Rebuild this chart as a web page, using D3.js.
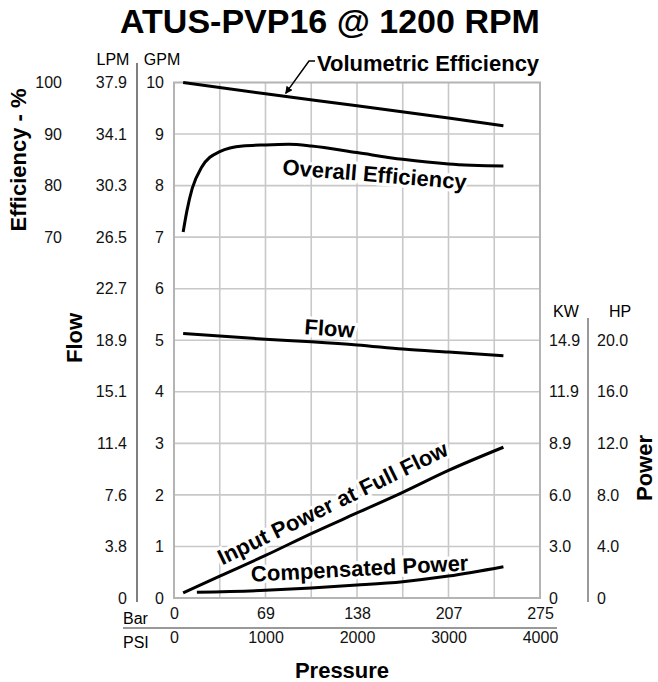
<!DOCTYPE html>
<html>
<head>
<meta charset="utf-8">
<script src="https://cdn.jsdelivr.net/npm/d3@7"></script>
<style>
  body { margin: 0; background: #fff; }
  svg { font-family: 'Liberation Sans', Arial, sans-serif; }
  .tick text { font-size: 16px; fill: #111; }
  .lbl { font-weight: bold; font-size: 22px; fill: #000; }
</style>
</head>
<body>
<script>
// pressure ticks
let psiTicks = [0, 1000, 2000, 3000, 4000],
  barLabels = ['0', '69', '138', '207', '275'];

// flow axis ticks (GPM) and LPM labels
let gpmTicks = [0, 1, 2, 3, 4, 5, 6, 7, 8, 9, 10],
  lpmLabels = ['0', '3.8', '7.6', '11.4', '15.1', '18.9', '22.7', '26.5', '30.3', '34.1', '37.9'],
  effTicks = [70, 80, 90, 100];

// power ticks (HP) and KW labels
let hpTicks = [0, 4, 8, 12, 16, 20],
  kwLabels = ['0', '3.0', '6.0', '8.9', '11.9', '14.9'],
  hpLabels = ['0', '4.0', '8.0', '12.0', '16.0', '20.0'];

// curves
let volPsi = [100, 1000, 2000, 3000, 3600],
  volEff = [100, 97.8, 95.5, 93.1, 91.6];

let ovPsi = [100, 140, 200, 300, 500, 750, 1000, 1250, 1500, 2000, 2500, 3000, 3600],
  ovEff = [71, 75, 79.5, 83.5, 86.6, 87.7, 87.9, 88.0, 87.7, 86.4, 85.1, 84.2, 83.8];

let flowPsi = [100, 1000, 1500, 2000, 2500, 3000, 3600],
  flowGpm = [5.13, 5.02, 4.97, 4.91, 4.83, 4.77, 4.70];

let inPsi = [100, 500, 1000, 1500, 2000, 2500, 3000, 3600],
  inHp = [0.4, 1.7, 3.3, 5.0, 6.6, 8.2, 9.9, 11.7];

let compPsi = [250, 1000, 1500, 2000, 2500, 3000, 3600],
  compHp = [0.45, 0.6, 0.78, 1.0, 1.27, 1.7, 2.43];

let w = 658,
  h = 682,
  pLeft = 174, pRight = 540, pTop = 82.5, pBottom = 598;

let x = d3.scaleLinear().domain([0, 4000]).range([pLeft, pRight]);
let y = d3.scaleLinear().domain([0, 10]).range([pBottom, pTop]);
let yEff = d3.scaleLinear().domain([0, 100]).range([pBottom, pTop]);
let yHp = d3.scaleLinear().domain([0, 40]).range([pBottom, pTop]);

let svg = d3.select('body')
  .append('svg')
  .attr('width', w)
  .attr('height', h);

// title
svg.append('text')
  .attr('x', 330).attr('y', 33)
  .attr('text-anchor', 'middle')
  .attr('font-weight', 'bold')
  .attr('font-size', '34px')
  .text('ATUS-PVP16 @ 1200 RPM');

// grid
svg.append('g')
  .selectAll('line')
  .data(d3.range(500, 4000, 500))
  .enter()
  .append('line')
  .attr('x1', d => x(d)).attr('x2', d => x(d))
  .attr('y1', pTop).attr('y2', pBottom)
  .attr('stroke', '#c8c8c8').attr('stroke-width', 1.6);

svg.append('g')
  .selectAll('line')
  .data(gpmTicks.slice(1, -1))
  .enter()
  .append('line')
  .attr('x1', pLeft).attr('x2', pRight)
  .attr('y1', d => y(d)).attr('y2', d => y(d))
  .attr('stroke', '#c8c8c8').attr('stroke-width', 1.6);

svg.append('rect')
  .attr('x', pLeft).attr('y', pTop)
  .attr('width', pRight - pLeft).attr('height', pBottom - pTop)
  .attr('fill', 'none')
  .attr('stroke', '#b4b4b4').attr('stroke-width', 2);

// left axes
let gpmAxis = svg.append('g')
  .attr('transform', 'translate(' + pLeft + ',0)')
  .call(d3.axisLeft(y).tickValues(gpmTicks).tickSize(0).tickPadding(10).tickFormat(d3.format('d')));
let lpmAxis = svg.append('g')
  .attr('transform', 'translate(137,0)')
  .call(d3.axisLeft(y).tickValues(gpmTicks).tickSize(0).tickPadding(10).tickFormat((d, i) => lpmLabels[i]));
let effAxis = svg.append('g')
  .attr('transform', 'translate(62,0)')
  .call(d3.axisLeft(yEff).tickValues(effTicks).tickSize(0).tickPadding(0));

// right axes
let kwAxis = svg.append('g')
  .attr('transform', 'translate(549,0)')
  .call(d3.axisRight(yHp).tickValues(hpTicks).tickSize(0).tickPadding(0).tickFormat((d, i) => kwLabels[i]));
let hpAxis = svg.append('g')
  .attr('transform', 'translate(597,0)')
  .call(d3.axisRight(yHp).tickValues(hpTicks).tickSize(0).tickPadding(0).tickFormat((d, i) => hpLabels[i]));

// bottom axes
let barAxis = svg.append('g')
  .attr('transform', 'translate(0,608)')
  .call(d3.axisBottom(x).tickValues(psiTicks).tickSize(0).tickPadding(0).tickFormat((d, i) => barLabels[i]));
let psiAxis = svg.append('g')
  .attr('transform', 'translate(0,632)')
  .call(d3.axisBottom(x).tickValues(psiTicks).tickSize(0).tickPadding(0).tickFormat(d3.format('d')));

[gpmAxis, lpmAxis, effAxis, kwAxis, hpAxis, barAxis, psiAxis].forEach(a => {
  a.select('.domain').remove();
  a.attr('font-family', null).attr('font-size', null);
});

// separators
svg.append('line')
  .attr('x1', 137).attr('x2', 137).attr('y1', 63).attr('y2', 602)
  .attr('stroke', '#555').attr('stroke-width', 1.5);
svg.append('line')
  .attr('x1', 588).attr('x2', 588).attr('y1', 318).attr('y2', 602)
  .attr('stroke', '#777').attr('stroke-width', 1.5);
svg.append('line')
  .attr('x1', 123).attr('x2', 557).attr('y1', 628).attr('y2', 628)
  .attr('stroke', '#777').attr('stroke-width', 1.5);

// small headers
let hdr = [
  ['LPM', 113, 65, 'middle'], ['GPM', 162, 65, 'middle'],
  ['KW', 566, 317, 'middle'], ['HP', 620, 317, 'middle'],
  ['Bar', 123, 624, 'start'], ['PSI', 123, 648, 'start']
];
svg.selectAll('text.hdr')
  .data(hdr)
  .enter()
  .append('text')
  .attr('class', 'hdr')
  .attr('x', d => d[1]).attr('y', d => d[2])
  .attr('text-anchor', d => d[3])
  .attr('font-size', '16px')
  .text(d => d[0]);

// axis titles
svg.append('text').attr('class', 'lbl')
  .attr('font-size', '23.5px')
  .attr('text-anchor', 'middle')
  .attr('transform', 'translate(26,160) rotate(-90)')
  .text('Efficiency - %');
svg.append('text').attr('class', 'lbl')
  .attr('font-size', '23.5px')
  .attr('text-anchor', 'middle')
  .attr('transform', 'translate(82,338) rotate(-90)')
  .text('Flow');
svg.append('text').attr('class', 'lbl')
  .attr('font-size', '22px')
  .attr('text-anchor', 'middle')
  .attr('transform', 'translate(652,468) rotate(-90)')
  .text('Power');
svg.append('text').attr('class', 'lbl')
  .attr('font-size', '23.5px')
  .attr('text-anchor', 'middle')
  .attr('x', 342).attr('y', 678)
  .text('Pressure');

// curve labels with white halo
let labels = [
  ['Overall Efficiency', 374, 182, 4.6],
  ['Flow', 329, 336, 4],
  ['Input Power at Full Flow', 336, 510, -26],
  ['Compensated Power', 360, 576, -3]
];
svg.selectAll('text.curve')
  .data(labels)
  .enter()
  .append('text')
  .attr('class', 'lbl curve')
  .attr('text-anchor', 'middle')
  .attr('transform', d => 'translate(' + d[1] + ',' + d[2] + ') rotate(' + d[3] + ')')
  .attr('stroke', '#fff').attr('stroke-width', 6)
  .attr('paint-order', 'stroke')
  .text(d => d[0]);

svg.append('text').attr('class', 'lbl')
  .attr('font-size', '22.5px')
  .attr('x', 317).attr('y', 71)
  .text('Volumetric Efficiency');

// curves
let mk = (xs, ys, sy) => d3.line()
  .x((d, i) => x(xs[i]))
  .y(d => sy(d))
  .curve(d3.curveMonotoneX)(ys);

let curves = [
  [volPsi, volEff, yEff],
  [ovPsi, ovEff, yEff],
  [flowPsi, flowGpm, y],
  [inPsi, inHp, yHp],
  [compPsi, compHp, yHp]
];
svg.selectAll('path.curve')
  .data(curves)
  .enter()
  .append('path')
  .attr('class', 'curve')
  .attr('d', d => mk(d[0], d[1], d[2]))
  .attr('fill', 'none')
  .attr('stroke', '#000')
  .attr('stroke-width', 3);

// leader arrow to volumetric curve
let tipX = x(1220), tipY = yEff(97.3) - 3;
svg.append('defs').append('marker')
  .attr('id', 'arr')
  .attr('viewBox', '0 0 10 10')
  .attr('refX', 9).attr('refY', 5)
  .attr('markerWidth', 5).attr('markerHeight', 5)
  .attr('orient', 'auto')
  .append('path')
  .attr('d', 'M0,0 L10,5 L0,10 Z');
svg.append('path')
  .attr('d', 'M315,61 L309,61 L' + tipX + ',' + tipY)
  .attr('fill', 'none')
  .attr('stroke', '#000')
  .attr('stroke-width', 1.5)
  .attr('marker-end', 'url(#arr)');
</script>
</body>
</html>
